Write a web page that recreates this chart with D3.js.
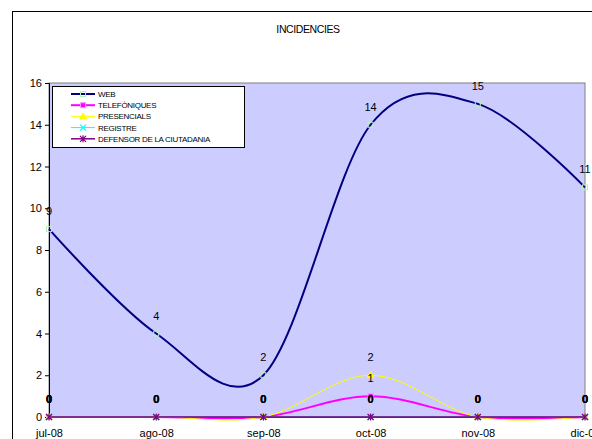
<!DOCTYPE html>
<html>
<head>
<meta charset="utf-8">
<script src="https://cdn.jsdelivr.net/npm/d3@7"></script>
<style>
  html, body { margin: 0; padding: 0; background: #fff; }
  svg { display: block; font-family: "Liberation Sans", Arial, sans-serif; }
</style>
</head>
<body>
<svg id="chart" width="592" height="439"></svg>
<script>
const title = "INCIDENCIES";
const months = ["jul-08", "ago-08", "sep-08", "oct-08", "nov-08", "dic-08"];
const web = [9, 4, 2, 14, 15, 11];
const telefoniques = [0, 0, 0, 1, 0, 0];
const presencials = [0, 0, 0, 2, 0, 0];
const registre = [0, 0, 0, 0, 0, 0];
const defensor = [0, 0, 0, 0, 0, 0];
const yTicks = [0, 2, 4, 6, 8, 10, 12, 14, 16];

const series = [
  { name: "WEB", values: web, color: "#000080", width: 2, marker: "square", mFill: "none", mStroke: "#b8f0b8", bold: false },
  { name: "TELEFÒNIQUES", values: telefoniques, color: "#ff00ff", width: 2, marker: "square", mFill: "#ff00ff", mStroke: "#ff99ff", bold: false },
  { name: "PRESENCIALS", values: presencials, color: "#ffff00", width: 1, marker: "triangle", mFill: "#ffff00", mStroke: "#ffff00", bold: false },
  { name: "REGISTRE", values: registre, color: "#00ffff", width: 1, marker: "x", mFill: "none", mStroke: "#00ffff", bold: true },
  { name: "DEFENSOR DE LA CIUTADANIA", values: defensor, color: "#800080", width: 1.5, marker: "star", mFill: "none", mStroke: "#800080", bold: true }
];

const svg = d3.select("#chart");
const pLeft = 49, pRight = 585, pTop = 83, pBottom = 417;

// outer chart border
svg.append("rect").attr("x", 12.5).attr("y", 11.5).attr("width", 600).attr("height", 460)
  .attr("fill", "#fff").attr("stroke", "#000").attr("stroke-width", 1);

svg.append("text").attr("x", 308).attr("y", 33).attr("text-anchor", "middle")
  .attr("font-size", 10.5).attr("letter-spacing", -0.4).text(title);

const x = d3.scalePoint().domain(months).range([pLeft, pRight]);
const y = d3.scaleLinear().domain([0, 16]).range([pBottom, pTop]);

// plot area
svg.append("rect").attr("x", pLeft).attr("y", pTop).attr("width", pRight - pLeft).attr("height", pBottom - pTop)
  .attr("fill", "#ccccff").attr("stroke", "#808080").attr("stroke-width", 1);

// y axis
const yAxis = svg.append("g").attr("transform", `translate(${pLeft},0)`)
  .call(d3.axisLeft(y).tickValues(yTicks).tickSize(4).tickPadding(3).tickFormat(d3.format("d")));
yAxis.select(".domain").attr("stroke", "#000");
yAxis.selectAll("text").attr("font-size", 11).attr("fill", "#000").attr("font-family", "Liberation Sans, Arial, sans-serif");

// x axis labels
const xAxis = svg.append("g").attr("transform", `translate(0,${pBottom})`)
  .call(d3.axisBottom(x).tickSize(0).tickPadding(12));
xAxis.select(".domain").attr("stroke", "#000");
xAxis.selectAll("text").attr("font-size", 11).attr("fill", "#000").attr("font-family", "Liberation Sans, Arial, sans-serif");

const line = d3.line().x((d, i) => x(months[i])).y(d => y(d)).curve(d3.curveCardinal.tension(0));

function drawMarker(g, s, cx, cy) {
  if (s.marker === "square") {
    g.append("rect").attr("x", cx - 2.5).attr("y", cy - 2.5).attr("width", 5).attr("height", 5)
      .attr("fill", s.mFill).attr("stroke", s.mStroke).attr("stroke-width", 1);
  } else if (s.marker === "triangle") {
    g.append("path").attr("d", `M${cx},${cy - 3.5}L${cx + 3.5},${cy + 2.5}L${cx - 3.5},${cy + 2.5}Z`)
      .attr("fill", s.mFill).attr("stroke", s.mStroke);
  } else if (s.marker === "x") {
    g.append("path").attr("d", `M${cx - 3},${cy - 3}L${cx + 3},${cy + 3}M${cx - 3},${cy + 3}L${cx + 3},${cy - 3}`)
      .attr("stroke", s.mStroke).attr("stroke-width", 1.2);
  } else if (s.marker === "star") {
    g.append("path").attr("d", `M${cx - 3},${cy - 3}L${cx + 3},${cy + 3}M${cx - 3},${cy + 3}L${cx + 3},${cy - 3}M${cx},${cy - 3.5}L${cx},${cy + 3.5}`)
      .attr("stroke", s.mStroke).attr("stroke-width", 1.2);
  }
}

// series lines and markers
series.forEach(s => {
  const g = svg.append("g");
  g.append("path").attr("d", line(s.values)).attr("fill", "none")
    .attr("stroke", s.color).attr("stroke-width", s.width);
  s.values.forEach((v, i) => drawMarker(g, s, x(months[i]), y(v)));
});

// data labels
series.forEach(s => {
  s.values.forEach((v, i) => {
    svg.append("text").attr("x", x(months[i])).attr("y", y(v) - 14)
      .attr("text-anchor", "middle").attr("font-size", 11)
      .attr("font-weight", s.bold ? "bold" : "normal").attr("fill", "#000").text(v);
  });
});

// legend
const lg = svg.append("g");
lg.append("rect").attr("x", 52.5).attr("y", 86.5).attr("width", 192).attr("height", 61)
  .attr("fill", "#fff").attr("stroke", "#000").attr("stroke-width", 1);
series.forEach((s, i) => {
  const cy = 94 + i * 11.2;
  lg.append("line").attr("x1", 71).attr("x2", 95).attr("y1", cy).attr("y2", cy)
    .attr("stroke", s.color).attr("stroke-width", s.width);
  drawMarker(lg, s, 83, cy);
  lg.append("text").attr("x", 98).attr("y", cy + 3).attr("font-size", 8)
    .attr("letter-spacing", -0.3).attr("fill", "#000").text(s.name);
});
</script>
</body>
</html>
